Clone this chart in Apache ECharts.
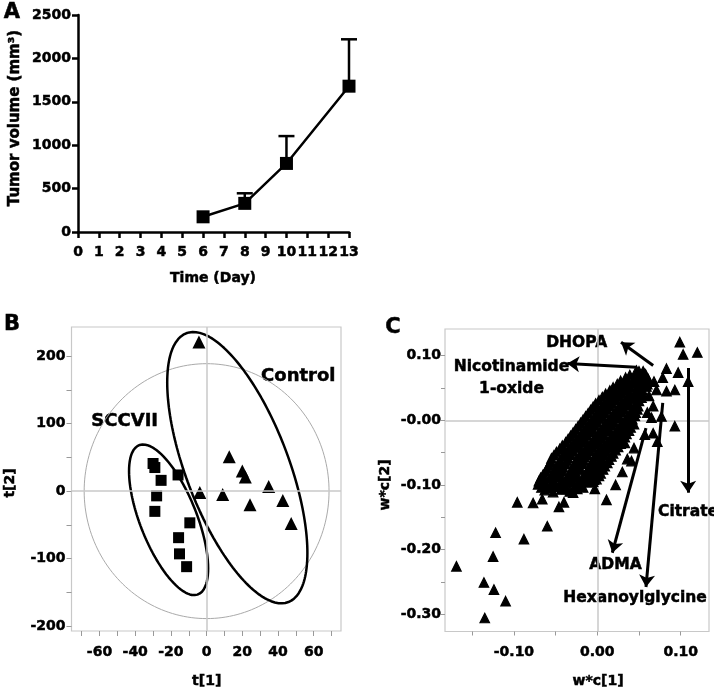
<!DOCTYPE html>
<html><head><meta charset="utf-8">
<script src="https://cdn.jsdelivr.net/npm/echarts@6/dist/echarts.min.js"></script>
<style>html,body{margin:0;padding:0;background:#fff}#c{width:714px;height:694px}</style>
</head><body><div id="c"></div>
<script>
// ---------- Panel A data ----------
const daysA = [6, 8, 10, 13];
const volumeA = [175, 330, 790, 1680];
const errA = [0, 116, 315, 540];
const xTicksA = [0,1,2,3,4,5,6,7,8,9,10,11,12,13];
const yTicksA = [0, 500, 1000, 1500, 2000, 2500];

// ---------- Panel B data ----------
const sccviiT1 = [-30, -29, -25.5, -16, -28, -29, -9.4, -15.7, -15.2, -11.2];
const sccviiT2 = [41, 35, 16, 24, -7, -30, -47, -69, -93, -112];
const controlT1 = [-4.3, -3.8, 9, 12.7, 20, 21.7, 34.8, 24.3, 42.7, 47.4];
const controlT2 = [221, -2, -5, 51, 30, 21, 7, -20, -14, -48];
const xLabelTicksB = [-60, -40, -20, 0, 20, 40, 60];
const xMinorTicksB = [-70, -60, -50, -40, -30, -20, -10, 0, 10, 20, 30, 40, 50, 60, 70];
const yLabelTicksB = [-200, -100, 0, 100, 200];
const yMinorTicksB = [-200, -150, -100, -50, 0, 50, 100, 150, 200];
// ellipses: centre [t1,t2] and shape [a, b, c]: t1 = cx + a cos, t2 = cy + b cos + c sin
const hotellingCentre = [0, 0];
const hotellingShape = [68.6, 0, 189];
const controlCentre = [17.2, 34.8];
const controlShape = [39.27, -126.4, 156.5];
const sccviiCentre = [-21.3, -42.5];
const sccviiShape = [22.16, -72.1, 85.3];

// ---------- Panel C data ----------
const loadingsC = [
[-0.063,-0.108],[-0.053,-0.111],[-0.043,-0.107],[-0.033,-0.110],[-0.024,-0.106],
[-0.067,-0.104],[-0.057,-0.105],[-0.047,-0.103],[-0.037,-0.106],[-0.027,-0.103],[-0.017,-0.104],
[-0.071,-0.099],[-0.061,-0.102],[-0.051,-0.098],[-0.041,-0.101],[-0.031,-0.097],[-0.021,-0.100],[-0.012,-0.096],
[-0.070,-0.094],[-0.063,-0.096],[-0.053,-0.093],[-0.043,-0.096],[-0.033,-0.093],[-0.023,-0.095],[-0.013,-0.093],[-0.005,-0.095],
[-0.068,-0.089],[-0.058,-0.091],[-0.048,-0.088],[-0.038,-0.092],[-0.028,-0.087],[-0.018,-0.090],[-0.008,-0.088],[-0.001,-0.091],
[-0.065,-0.084],[-0.055,-0.086],[-0.045,-0.083],[-0.035,-0.086],[-0.025,-0.083],[-0.015,-0.085],[-0.005,-0.083],[0.002,-0.086],
[-0.062,-0.079],[-0.052,-0.082],[-0.042,-0.078],[-0.032,-0.081],[-0.022,-0.077],[-0.012,-0.080],[-0.002,-0.078],[0.004,-0.082],
[-0.060,-0.074],[-0.051,-0.076],[-0.041,-0.073],[-0.031,-0.076],[-0.021,-0.073],[-0.011,-0.075],[-0.001,-0.073],[0.007,-0.076],
[-0.058,-0.069],[-0.048,-0.072],[-0.038,-0.068],[-0.028,-0.071],[-0.018,-0.067],[-0.008,-0.070],[0.002,-0.068],[0.009,-0.071],
[-0.056,-0.064],[-0.046,-0.066],[-0.036,-0.063],[-0.026,-0.066],[-0.016,-0.063],[-0.006,-0.065],[0.004,-0.063],[0.012,-0.066],
[-0.055,-0.059],[-0.045,-0.062],[-0.035,-0.058],[-0.025,-0.061],[-0.015,-0.057],[-0.005,-0.060],[0.005,-0.058],[0.014,-0.061],
[-0.052,-0.054],[-0.042,-0.056],[-0.032,-0.053],[-0.022,-0.056],[-0.012,-0.053],[-0.002,-0.055],[0.008,-0.053],[0.017,-0.056],
[-0.049,-0.049],[-0.039,-0.052],[-0.029,-0.048],[-0.019,-0.051],[-0.009,-0.047],[0.001,-0.050],[0.011,-0.048],[0.019,-0.051],
[-0.045,-0.044],[-0.035,-0.046],[-0.025,-0.043],[-0.015,-0.046],[-0.005,-0.043],[0.005,-0.045],[0.014,-0.043],[0.022,-0.046],
[-0.042,-0.039],[-0.032,-0.042],[-0.022,-0.038],[-0.012,-0.041],[-0.002,-0.037],[0.008,-0.040],[0.017,-0.038],[0.025,-0.041],
[-0.038,-0.034],[-0.028,-0.036],[-0.018,-0.033],[-0.008,-0.036],[0.002,-0.033],[0.012,-0.035],[0.021,-0.033],[0.028,-0.036],
[-0.035,-0.029],[-0.025,-0.032],[-0.015,-0.028],[-0.005,-0.031],[0.005,-0.027],[0.015,-0.030],[0.024,-0.028],[0.030,-0.031],
[-0.032,-0.024],[-0.022,-0.026],[-0.012,-0.023],[-0.002,-0.026],[0.008,-0.023],[0.018,-0.025],[0.027,-0.023],[0.033,-0.026],
[-0.029,-0.019],[-0.019,-0.022],[-0.009,-0.018],[0.001,-0.021],[0.011,-0.017],[0.021,-0.020],[0.029,-0.018],[0.035,-0.021],
[-0.026,-0.014],[-0.016,-0.016],[-0.006,-0.013],[0.004,-0.016],[0.014,-0.013],[0.024,-0.015],[0.032,-0.013],[0.038,-0.016],
[-0.023,-0.009],[-0.013,-0.012],[-0.003,-0.008],[0.007,-0.011],[0.017,-0.007],[0.027,-0.010],[0.035,-0.008],[0.040,-0.011],
[-0.020,-0.004],[-0.010,-0.006],[0.000,-0.003],[0.010,-0.006],[0.020,-0.003],[0.030,-0.005],[0.039,-0.003],[0.044,-0.006],
[-0.017,0.001],[-0.007,-0.002],[0.003,0.002],[0.013,-0.001],[0.023,0.003],[0.033,0.000],[0.042,0.002],
[-0.014,0.006],[-0.004,0.004],[0.006,0.007],[0.016,0.004],[0.026,0.007],[0.036,0.005],[0.045,0.007],
[-0.011,0.011],[-0.001,0.008],[0.009,0.012],[0.019,0.009],[0.029,0.013],[0.039,0.010],[0.046,0.012],
[-0.008,0.016],[0.002,0.014],[0.012,0.017],[0.022,0.014],[0.032,0.017],[0.042,0.015],[0.048,0.017],
[-0.005,0.021],[0.005,0.018],[0.015,0.022],[0.025,0.019],[0.035,0.023],[0.044,0.020],[0.049,0.022],
[-0.002,0.026],[0.008,0.024],[0.018,0.027],[0.028,0.024],[0.038,0.027],[0.047,0.025],
[0.002,0.031],[0.012,0.028],[0.022,0.032],[0.032,0.029],[0.042,0.033],[0.050,0.030],
[0.006,0.036],[0.016,0.034],[0.026,0.037],[0.036,0.034],[0.046,0.037],[0.053,0.035],
[0.010,0.041],[0.020,0.038],[0.030,0.042],[0.040,0.039],[0.050,0.043],[0.055,0.040],
[0.015,0.046],[0.025,0.044],[0.035,0.047],[0.045,0.044],[0.054,0.047],
[0.019,0.051],[0.029,0.048],[0.039,0.052],[0.049,0.049],[0.057,0.053],
[0.024,0.056],[0.034,0.054],[0.044,0.057],[0.053,0.054],[0.060,0.056],
[0.028,0.061],[0.038,0.058],[0.048,0.062],[0.058,0.059],
[0.034,0.066],[0.044,0.064],[0.053,0.066],[0.061,0.064],
[0.039,0.070],[0.049,0.068],[0.058,0.071],
[0.047,0.077],[0.055,0.076],
// scattered loadings
[-0.169,-0.226],[-0.136,-0.251],[-0.135,-0.306],[-0.124,-0.262],[-0.110,-0.280],[-0.125,-0.211],
[-0.122,-0.174],[-0.088,-0.184],[-0.096,-0.127],[-0.060,-0.164],[-0.077,-0.128],[-0.066,-0.122],
[-0.046,-0.134],[-0.040,-0.127],[-0.029,-0.112],[-0.003,-0.106],[0.011,-0.123],[0.022,-0.100],
[-0.004,-0.092],[0.041,-0.063],[0.044,-0.043],[0.033,-0.035],[0.036,-0.060],[0.030,-0.080],
[0.057,-0.022],[0.067,-0.020],[0.072,-0.033],[0.093,-0.009],[0.065,0.004],[0.077,0.006],
[0.067,0.022],[0.060,0.012],[0.062,0.038],[0.071,0.047],[0.083,0.045],[0.093,0.047],
[0.0785,0.066],[0.083,0.080],[0.097,0.074],[0.109,0.060],[0.099,0.121],[0.103,0.102],
[0.120,0.105],[0.057,0.072],[0.050,0.076],[0.059,0.0525],[0.068,0.060]
];
const arrowsC = [
  [[0.067, 0.085], [0.0285, 0.121]],   // DHOPA
  [[0.047, 0.082], [-0.036, 0.088]],   // Nicotinamide 1-oxide
  [[0.109, 0.081], [0.109, -0.112]],   // Citrate
  [[0.0584, -0.012], [0.018, -0.205]], // ADMA
  [[0.0785, 0.027], [0.0584, -0.258]]  // Hexanoylglycine
];
const xLabelTicksC = [-0.10, 0, 0.10];
const xLabelTextC = ['-0.10', '0.00', '0.10'];
const xMinorTicksC = [-0.15, -0.10, -0.05, 0, 0.05, 0.10];
const yLabelTicksC = [-0.30, -0.20, -0.10, 0, 0.10];
const yLabelTextC = ['-0.30', '-0.20', '-0.10', '-0.00', '0.10'];
const yMinorTicksC = [-0.30, -0.25, -0.20, -0.15, -0.10, -0.05, 0, 0.05, 0.10];

// ---------- helpers ----------
const FF = '"DejaVu Sans", sans-serif';
function ellipse(c, s) {
  const pts = [];
  for (let i = 0; i <= 200; i++) {
    const t = 2 * Math.PI * i / 200;
    pts.push([c[0] + s[0] * Math.cos(t), c[1] + s[1] * Math.cos(t) + s[2] * Math.sin(t)]);
  }
  return pts;
}
function pickLabel(vals, texts) {
  return v => { let bi = 0; for (let i = 0; i < vals.length; i++) if (Math.abs(vals[i] - v) < Math.abs(vals[bi] - v)) bi = i; return texts[bi]; };
}
const lab = (extra) => Object.assign({ color: '#000', fontFamily: FF, fontWeight: 'bold', fontSize: 14, textBorderColor: '#000', textBorderWidth: 0.5 }, extra);
const txt = (x, y, text, size, rot, extra) => ({
  type: 'text', x: x, y: y, rotation: rot || 0,
  style: Object.assign({ text: text, font: 'bold ' + size + 'px ' + FF, fill: '#000', stroke: '#000', lineWidth: 0.5,
    align: 'center', verticalAlign: 'middle', textAlign: 'center', textVerticalAlign: 'middle' }, extra || {})
});

const chart = echarts.init(document.getElementById('c'), null, { renderer: 'canvas' });
const greyTick = { show: true, length: 5, lineStyle: { color: '#999', width: 1 } };
const solid = { color: '#000', opacity: 1 };

const option = {
  animation: false,
  backgroundColor: '#fff',
  grid: [
    { left: 78, top: 15, width: 271, height: 217 },
    { left: 71.5, top: 327, width: 269.5, height: 304, show: true, borderColor: '#c8c8c8', borderWidth: 1.2 },
    { left: 445, top: 329, width: 264, height: 302.5, show: true, borderColor: '#c8c8c8', borderWidth: 1.2 }
  ],
  xAxis: [
    { gridIndex: 0, type: 'value', min: 0, max: 13, interval: 1,
      axisLine: { lineStyle: { color: '#000', width: 2.5 } },
      axisTick: { length: 6, lineStyle: { color: '#000', width: 2.5 } },
      axisLabel: lab({ margin: 13, formatter: v => String(xTicksA[v]) }),
      splitLine: { show: false } },
    { gridIndex: 1, type: 'value', min: -75.7, max: 75.3,
      axisLine: { show: false, onZero: false },
      axisTick: Object.assign({ customValues: xMinorTicksB }, greyTick),
      axisLabel: lab({ margin: 14, customValues: xLabelTicksB }),
      splitLine: { show: false } },
    { gridIndex: 2, type: 'value', min: -0.1827, max: 0.134,
      axisLine: { show: false, onZero: false },
      axisTick: Object.assign({ customValues: xMinorTicksC }, greyTick, { length: 4 }),
      axisLabel: lab({ margin: 14, customValues: xLabelTicksC, formatter: pickLabel(xLabelTicksC, xLabelTextC) }),
      splitLine: { show: false } }
  ],
  yAxis: [
    { gridIndex: 0, type: 'value', min: 0, max: 2500, interval: 500,
      axisLine: { lineStyle: { color: '#000', width: 2.5 } },
      axisTick: { length: 6, lineStyle: { color: '#000', width: 2.5 } },
      axisLabel: lab({ margin: 7, formatter: v => String(yTicksA[Math.round(v / 500)]) }),
      splitLine: { show: false } },
    { gridIndex: 1, type: 'value', min: -207.4, max: 243.4,
      axisLine: { show: false, onZero: false },
      axisTick: Object.assign({ customValues: yMinorTicksB }, greyTick),
      axisLabel: lab({ margin: 6, customValues: yLabelTicksB }),
      splitLine: { show: false } },
    { gridIndex: 2, type: 'value', min: -0.3269, max: 0.1414,
      axisLine: { show: false, onZero: false },
      axisTick: Object.assign({ customValues: yMinorTicksC }, greyTick, { length: 4 }),
      axisLabel: lab({ margin: 4, customValues: yLabelTicksC, formatter: pickLabel(yLabelTicksC, yLabelTextC) }),
      splitLine: { show: false } }
  ],
  series: [
    // Panel A
    { type: 'line', xAxisIndex: 0, yAxisIndex: 0, data: daysA.map((d, i) => [d, volumeA[i]]),
      symbol: 'rect', symbolSize: 13, lineStyle: { color: '#000', width: 2.5 }, itemStyle: solid, z: 3 },
    { type: 'custom', xAxisIndex: 0, yAxisIndex: 0, data: daysA.map((d, i) => [d, volumeA[i], errA[i]]),
      encode: { x: 0, y: 1 }, z: 2,
      renderItem: (params, api) => {
        const x = api.value(0), y = api.value(1), e = api.value(2);
        if (!e) return null;
        const p0 = api.coord([x, y]), p1 = api.coord([x, y + e]);
        return { type: 'group', children: [
          { type: 'line', shape: { x1: p0[0], y1: p0[1], x2: p1[0], y2: p1[1] }, style: { stroke: '#000', lineWidth: 2.5 } },
          { type: 'line', shape: { x1: p1[0] - 8, y1: p1[1], x2: p1[0] + 8, y2: p1[1] }, style: { stroke: '#000', lineWidth: 2.5 } }
        ] };
      } },
    // Panel B
    { type: 'line', xAxisIndex: 1, yAxisIndex: 1, data: ellipse(hotellingCentre, hotellingShape),
      symbol: 'none', lineStyle: { color: '#aaa', width: 1 }, silent: true, z: 1,
      markLine: { silent: true, symbol: 'none', label: { show: false }, lineStyle: { color: '#c8c8c8', width: 1.5, type: 'solid' },
        data: [{ xAxis: 0 }, { yAxis: 0 }] } },
    { type: 'line', xAxisIndex: 1, yAxisIndex: 1, data: ellipse(controlCentre, controlShape),
      symbol: 'none', lineStyle: { color: '#000', width: 2.5 }, silent: true, z: 2 },
    { type: 'line', xAxisIndex: 1, yAxisIndex: 1, data: ellipse(sccviiCentre, sccviiShape),
      symbol: 'none', lineStyle: { color: '#000', width: 2.5 }, silent: true, z: 2 },
    { type: 'scatter', xAxisIndex: 1, yAxisIndex: 1, data: sccviiT1.map((v, i) => [v, sccviiT2[i]]),
      symbol: 'rect', symbolSize: 11, itemStyle: solid, z: 3 },
    { type: 'scatter', xAxisIndex: 1, yAxisIndex: 1, data: controlT1.map((v, i) => [v, controlT2[i]]),
      symbol: 'triangle', symbolSize: 13, itemStyle: solid, z: 3 },
    // Panel C
    { type: 'scatter', xAxisIndex: 2, yAxisIndex: 2, data: loadingsC,
      symbol: 'triangle', symbolSize: 9.5, itemStyle: { color: '#000', opacity: 1, borderColor: '#000', borderWidth: 1.2 }, z: 3,
      markLine: { silent: true, symbol: 'none', label: { show: false }, lineStyle: { color: '#c8c8c8', width: 1.5, type: 'solid' },
        z: 1, data: [{ xAxis: 0 }, { yAxis: 0 }] } },
    { type: 'scatter', xAxisIndex: 2, yAxisIndex: 2, data: [], z: 4,
      markLine: { silent: true, symbol: ['none', 'arrow'], symbolSize: 12, label: { show: false },
        lineStyle: { color: '#000', width: 3, type: 'solid', opacity: 1 },
        data: arrowsC.map(a => [{ coord: a[0] }, { coord: a[1] }]) } }
  ],
  graphic: [
    txt(12, 13, 'A', 21),
    txt(12, 325, 'B', 21),
    txt(393, 328, 'C', 21),
    txt(15, 118, 'Tumor volume (mm³)', 15, Math.PI / 2),
    txt(213, 278, 'Time (Day)', 14),
    txt(10, 483, 't[2]', 14, Math.PI / 2),
    txt(206.7, 681.5, 't[1]', 14),
    txt(385, 485, 'w*c[2]', 14, Math.PI / 2),
    txt(598, 681.5, 'w*c[1]', 14),
    txt(124.7, 421.7, 'SCCVII', 18),
    txt(298.3, 376, 'Control', 18),
    txt(576.7, 342.5, 'DHOPA', 15.5),
    txt(511.5, 378, 'Nicotinamide\n1-oxide', 15.5, 0, { lineHeight: 22 }),
    txt(658, 511.7, 'Citrate', 15.5, 0, { align: 'left', textAlign: 'left' }),
    txt(615.5, 564.5, 'ADMA', 15.5),
    txt(635, 597.5, 'Hexanoylglycine', 15.5)
  ]
};
chart.setOption(option);
</script>
</body></html>
